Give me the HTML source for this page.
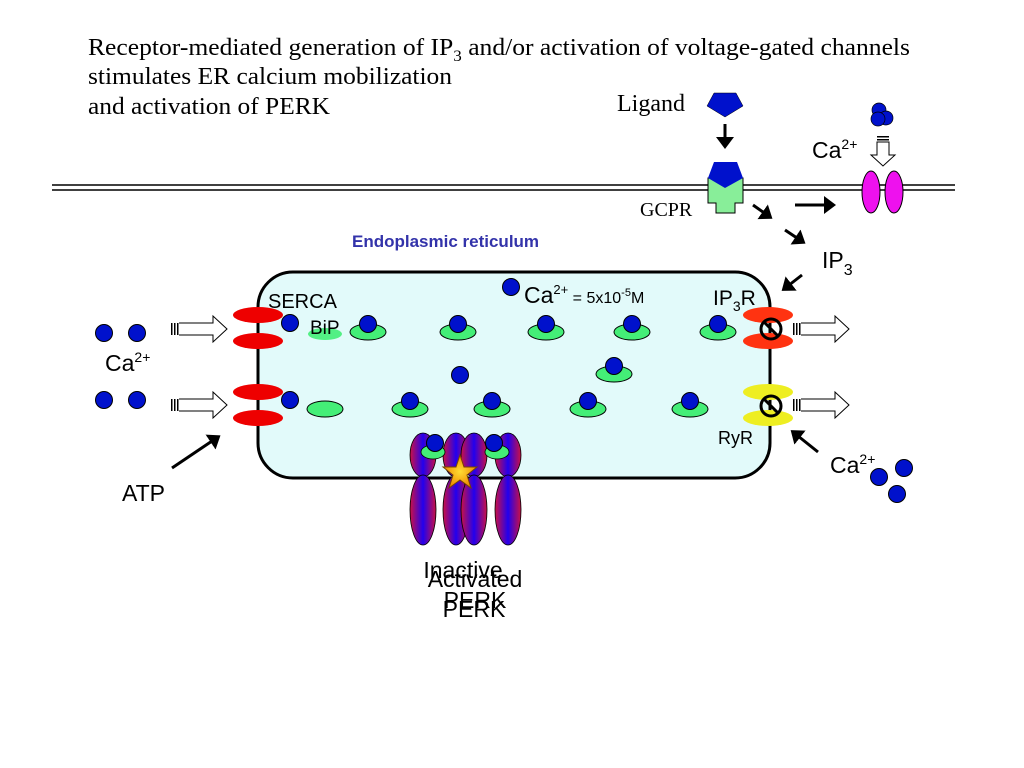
<!DOCTYPE html>
<html><head><meta charset="utf-8"><style>
body{margin:0;background:#fff}
svg{display:block}
.t{font-family:"Liberation Serif",serif}
.s{font-family:"Liberation Sans",sans-serif}
</style></head><body>
<svg width="1024" height="768" viewBox="0 0 1024 768">
<defs>
<linearGradient id="pg" x1="0" x2="1" y1="0" y2="0">
<stop offset="0" stop-color="#cc1144"/><stop offset="0.5" stop-color="#2200ee"/><stop offset="1" stop-color="#cc1144"/>
</linearGradient>
<radialGradient id="st"><stop offset="0" stop-color="#ffdd33"/><stop offset="1" stop-color="#ee8800"/></radialGradient>
<marker id="ah" markerWidth="6" markerHeight="6" refX="3" refY="3" orient="auto" markerUnits="strokeWidth"><path d="M0,0 L4,3 L0,6 z" fill="#000"/></marker>
<g id="ha"><rect x="0" y="-6" width="1.5" height="12"/><rect x="3" y="-6" width="1.5" height="12"/><rect x="6" y="-6" width="1.5" height="12"/><path d="M8,-6 H42 V-13 L56,0 L42,13 V6 H8" fill="#fff" stroke="#000"/></g>
<g id="ca"><circle r="8.5" fill="#0011cc" stroke="#000" stroke-width="1"/></g>
</defs>
<text class="t" x="88" y="55" font-size="24" textLength="822" lengthAdjust="spacingAndGlyphs">Receptor-mediated generation of IP<tspan font-size="16" dy="6">3</tspan><tspan dy="-6"> and/or activation of voltage-gated channels</tspan></text>
<text class="t" x="88" y="84" font-size="24" textLength="364" lengthAdjust="spacingAndGlyphs">stimulates ER calcium mobilization</text>
<text class="t" x="88" y="114" font-size="24" textLength="242" lengthAdjust="spacingAndGlyphs">and activation of PERK</text>
<line x1="52" y1="185" x2="955" y2="185" stroke="#000" stroke-width="1.5"/>
<line x1="52" y1="190" x2="955" y2="190" stroke="#000" stroke-width="1.5"/>
<text class="t" x="617" y="111" font-size="24">Ligand</text>
<polygon points="714,93 736,93 743,106 725,117 707,106" fill="#0011cc" stroke="#000" stroke-width="0.5"/>
<line x1="725" y1="124" x2="725" y2="146" stroke="#000" stroke-width="3" marker-end="url(#ah)"/>
<path d="M708,178 H743 V203 H735 V213 H716 V203 H708 Z" fill="#88ee99" stroke="#000" stroke-width="1"/>
<polygon points="714,162 737,162 743,178 725,188 708,178" fill="#0011cc"/>
<text class="t" x="640" y="216" font-size="20">GCPR</text>
<line x1="753" y1="205" x2="770" y2="217" stroke="#000" stroke-width="3" marker-end="url(#ah)"/>
<line x1="785" y1="230" x2="803" y2="242" stroke="#000" stroke-width="3" marker-end="url(#ah)"/>
<line x1="795" y1="205" x2="833" y2="205" stroke="#000" stroke-width="3" marker-end="url(#ah)"/>
<text class="s" x="822" y="268" font-size="23">IP<tspan font-size="16" dy="7">3</tspan></text>
<line x1="802" y1="275" x2="784" y2="289" stroke="#000" stroke-width="3" marker-end="url(#ah)"/>
<ellipse cx="871" cy="192" rx="9" ry="21" fill="#ee11ee" stroke="#000"/>
<ellipse cx="894" cy="192" rx="9" ry="21" fill="#ee11ee" stroke="#000"/>
<text class="s" x="812" y="158" font-size="23">Ca<tspan font-size="14" dy="-9">2+</tspan></text>
<g fill="#000"><rect x="877" y="136" width="12" height="1.5"/><rect x="877" y="139" width="12" height="1.5"/></g>
<path d="M877,142 H889 V155 H895 L883,166 L871,155 H877 Z" fill="#fff" stroke="#000"/>
<circle cx="879" cy="110" r="7" fill="#0011cc" stroke="#000" stroke-width="0.7"/>
<circle cx="886" cy="118" r="7" fill="#0011cc" stroke="#000" stroke-width="0.7"/>
<circle cx="878" cy="119" r="7" fill="#0011cc" stroke="#000" stroke-width="0.7"/>
<text class="s" x="352" y="247" font-size="17" font-weight="bold" fill="#3333aa">Endoplasmic reticulum</text>
<rect x="258" y="272" width="512" height="206" rx="35" fill="#e2fafa" stroke="#000" stroke-width="3"/>
<text class="s" x="268" y="308" font-size="20">SERCA</text>
<ellipse cx="325" cy="334" rx="17" ry="6" fill="#44ee77" opacity="0.9"/>
<text class="s" x="310" y="334" font-size="19">BiP</text>
<text class="s" x="524" y="303" font-size="23">Ca<tspan font-size="13" dy="-9">2+</tspan><tspan font-size="16" dy="9"> = 5x10</tspan><tspan font-size="11" dy="-7">-5</tspan><tspan font-size="16" dy="7">M</tspan></text>
<use href="#ca" x="511" y="287"/>
<text class="s" x="713" y="305" font-size="21">IP<tspan font-size="14" dy="6">3</tspan><tspan dy="-6">R</tspan></text>
<text class="s" x="718" y="444" font-size="18">RyR</text>
<g fill="#44ee77" stroke="#000" stroke-width="1">
<ellipse cx="368" cy="332" rx="18" ry="8"/><ellipse cx="458" cy="332" rx="18" ry="8"/><ellipse cx="546" cy="332" rx="18" ry="8"/><ellipse cx="632" cy="332" rx="18" ry="8"/><ellipse cx="718" cy="332" rx="18" ry="8"/>
<ellipse cx="325" cy="409" rx="18" ry="8"/><ellipse cx="410" cy="409" rx="18" ry="8"/><ellipse cx="492" cy="409" rx="18" ry="8"/><ellipse cx="588" cy="409" rx="18" ry="8"/><ellipse cx="690" cy="409" rx="18" ry="8"/>
<ellipse cx="614" cy="374" rx="18" ry="8"/>
</g>
<use href="#ca" x="368" y="324"/><use href="#ca" x="458" y="324"/><use href="#ca" x="546" y="324"/><use href="#ca" x="632" y="324"/><use href="#ca" x="718" y="324"/>
<use href="#ca" x="410" y="401"/><use href="#ca" x="492" y="401"/><use href="#ca" x="588" y="401"/><use href="#ca" x="690" y="401"/>
<use href="#ca" x="614" y="366"/><use href="#ca" x="460" y="375"/>
<use href="#ca" x="290" y="323"/><use href="#ca" x="290" y="400"/>
<g fill="#ee0000"><ellipse cx="258" cy="315" rx="25" ry="8"/><ellipse cx="258" cy="341" rx="25" ry="8"/><ellipse cx="258" cy="392" rx="25" ry="8"/><ellipse cx="258" cy="418" rx="25" ry="8"/></g>
<use href="#ha" x="171" y="329"/><use href="#ha" x="171" y="405"/>
<use href="#ca" x="104" y="333"/><use href="#ca" x="137" y="333"/><use href="#ca" x="104" y="400"/><use href="#ca" x="137" y="400"/>
<text class="s" x="105" y="371" font-size="23">Ca<tspan font-size="14" dy="-9">2+</tspan></text>
<line x1="172" y1="468" x2="218" y2="437" stroke="#000" stroke-width="3" marker-end="url(#ah)"/>
<text class="s" x="122" y="501" font-size="23">ATP</text>
<g fill="#ff3311"><ellipse cx="768" cy="315" rx="25" ry="8"/><ellipse cx="768" cy="341" rx="25" ry="8"/></g>
<g fill="#eeee22"><ellipse cx="768" cy="392" rx="25" ry="8"/><ellipse cx="768" cy="418" rx="25" ry="8"/></g>
<g fill="none" stroke="#000" stroke-width="3"><circle cx="771" cy="329" r="10"/><line x1="764" y1="322" x2="778" y2="336"/><circle cx="771" cy="406" r="10"/><line x1="764" y1="399" x2="778" y2="413"/></g>
<use href="#ha" x="793" y="329"/><use href="#ha" x="793" y="405"/>
<line x1="818" y1="452" x2="793" y2="432" stroke="#000" stroke-width="3" marker-end="url(#ah)"/>
<text class="s" x="830" y="473" font-size="23">Ca<tspan font-size="14" dy="-9">2+</tspan></text>
<use href="#ca" x="879" y="477"/><use href="#ca" x="904" y="468"/><use href="#ca" x="897" y="494"/>
<g fill="url(#pg)" stroke="#000" stroke-width="0.8">
<ellipse cx="423" cy="455" rx="13" ry="22"/><ellipse cx="423" cy="510" rx="13" ry="35"/>
<ellipse cx="508" cy="455" rx="13" ry="22"/><ellipse cx="508" cy="510" rx="13" ry="35"/>
<ellipse cx="456" cy="455" rx="13" ry="22"/><ellipse cx="456" cy="510" rx="13" ry="35"/>
<ellipse cx="474" cy="455" rx="13" ry="22"/><ellipse cx="474" cy="510" rx="13" ry="35"/>
</g>
<ellipse cx="433" cy="452" rx="12" ry="7" fill="#44ee77" stroke="#000" stroke-width="0.8"/>
<ellipse cx="497" cy="452" rx="12" ry="7" fill="#44ee77" stroke="#000" stroke-width="0.8"/>
<use href="#ca" x="435" y="443"/><use href="#ca" x="494" y="443"/>
<polygon points="460,455 464,467 477,467 467,475 471,488 460,480 449,488 453,475 443,467 456,467" fill="url(#st)" stroke="#774400"/>
<g class="s" font-size="23" text-anchor="middle">
<text x="463" y="578">Inactive</text><text x="475" y="587">Activated</text>
<text x="475" y="608">PERK</text><text x="474" y="617">PERK</text>
</g>
</svg>
</body></html>
